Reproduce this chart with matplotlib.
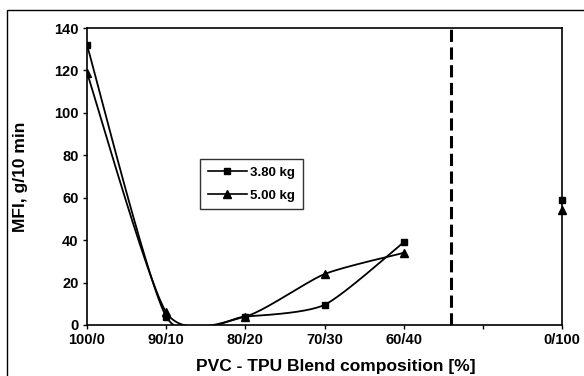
import numpy as np
import matplotlib
matplotlib.use("Agg")
import matplotlib.pyplot as plt
from matplotlib.patches import Rectangle

plt.rcParams['font.family'] = ['Liberation Sans', 'DejaVu Sans']

categories = ["100/0", "90/10", "80/20", "70/30", "60/40", "", "0/100"]
mfi_380 = [132, 4, 4, 9.5, 39, None, 59]
mfi_500 = [119, 6, 4, 24, 34, None, 54]
divider_pos = 4.6

def smooth(xs, ys, k=1/9, n=40):
    P = np.column_stack([xs, ys]).astype(float)
    out = []
    for i in range(len(P) - 1):
        p0 = P[i - 1] if i > 0 else P[i]
        p1 = P[i]
        p2 = P[i + 1]
        p3 = P[i + 2] if i + 2 < len(P) else P[i + 1]
        c1 = p1 + (p2 - p0) * k
        c2 = p2 - (p3 - p1) * k
        t = np.linspace(0, 1, n)[:, None]
        seg = (1 - t) ** 3 * p1 + 3 * (1 - t) ** 2 * t * c1 + 3 * (1 - t) * t ** 2 * c2 + t ** 3 * p2
        out.append(seg if i == 0 else seg[1:])
    s = np.vstack(out)
    return s[:, 0], s[:, 1]

fig = plt.figure(figsize=(5.84, 3.76), dpi=100)
ax = fig.add_axes([87/584, 51/376, (562-87)/584, (325-28)/376])

x = np.arange(len(categories))
for vals, mk, ms, lab in [(mfi_380, 's', 5, '3.80 kg'), (mfi_500, '^', 6, '5.00 kg')]:
    idx = [i for i, v in enumerate(vals) if v is not None and i <= 4]
    xs = x[idx]
    ys = np.array([vals[i] for i in idx])
    sx, sy = smooth(xs, ys)
    ax.plot(sx, sy, color='black', lw=1.3)
    ax.plot(xs, ys, linestyle='none', marker=mk, ms=ms, color='black')
    ax.plot([x[6]], [vals[6]], linestyle='none', marker=mk, ms=ms, color='black', clip_on=False)
    ax.plot([], [], color='black', lw=1.2, marker=mk, ms=ms, label=lab)

ax.axvline(divider_pos, color='black', lw=2.2, linestyle=(0, (4, 1.8)), clip_on=False, ymax=1.01)

ax.set_xlim(0, 6)
ax.set_ylim(0, 140)
ax.set_xticks(x)
ax.set_xticklabels(categories, fontweight='bold', fontsize=10.5)
ax.set_yticks(np.arange(0, 141, 20))
ax.set_yticklabels([str(v) for v in range(0, 141, 20)], fontweight='bold', fontsize=10.5)
ax.tick_params(direction='out', length=3, width=1, pad=3)
for s in ax.spines.values():
    s.set_linewidth(1.2)

ax.set_ylabel("MFI, g/10 min", fontweight='bold', fontsize=12.5)
ax.set_xlabel("PVC - TPU Blend composition [%]", fontweight='bold', fontsize=12.5)
ax.yaxis.set_label_coords((20 - 87) / 475, 0.5)
ax.xaxis.set_label_coords((336 - 87) / 475, -(366 - 325) / 297)
ax.xaxis.label.set_va('center')
ax.yaxis.label.set_va('center')

leg = ax.legend(loc='upper left', bbox_to_anchor=((193-87)/475, (325-152)/297),
                frameon=True, fancybox=False, edgecolor='black', fontsize=9.5,
                handlelength=3.0, borderpad=0.6, labelspacing=0.8, handletextpad=0.2)
leg.get_frame().set_linewidth(1.0)
for t in leg.get_texts():
    t.set_fontweight('bold')

fig.patches.append(Rectangle((7/584, -0.1), 1.0, (376-10)/376 + 0.1, transform=fig.transFigure,
                             fill=False, edgecolor='black', lw=1.0))

fig.savefig("out.png", dpi=100)
